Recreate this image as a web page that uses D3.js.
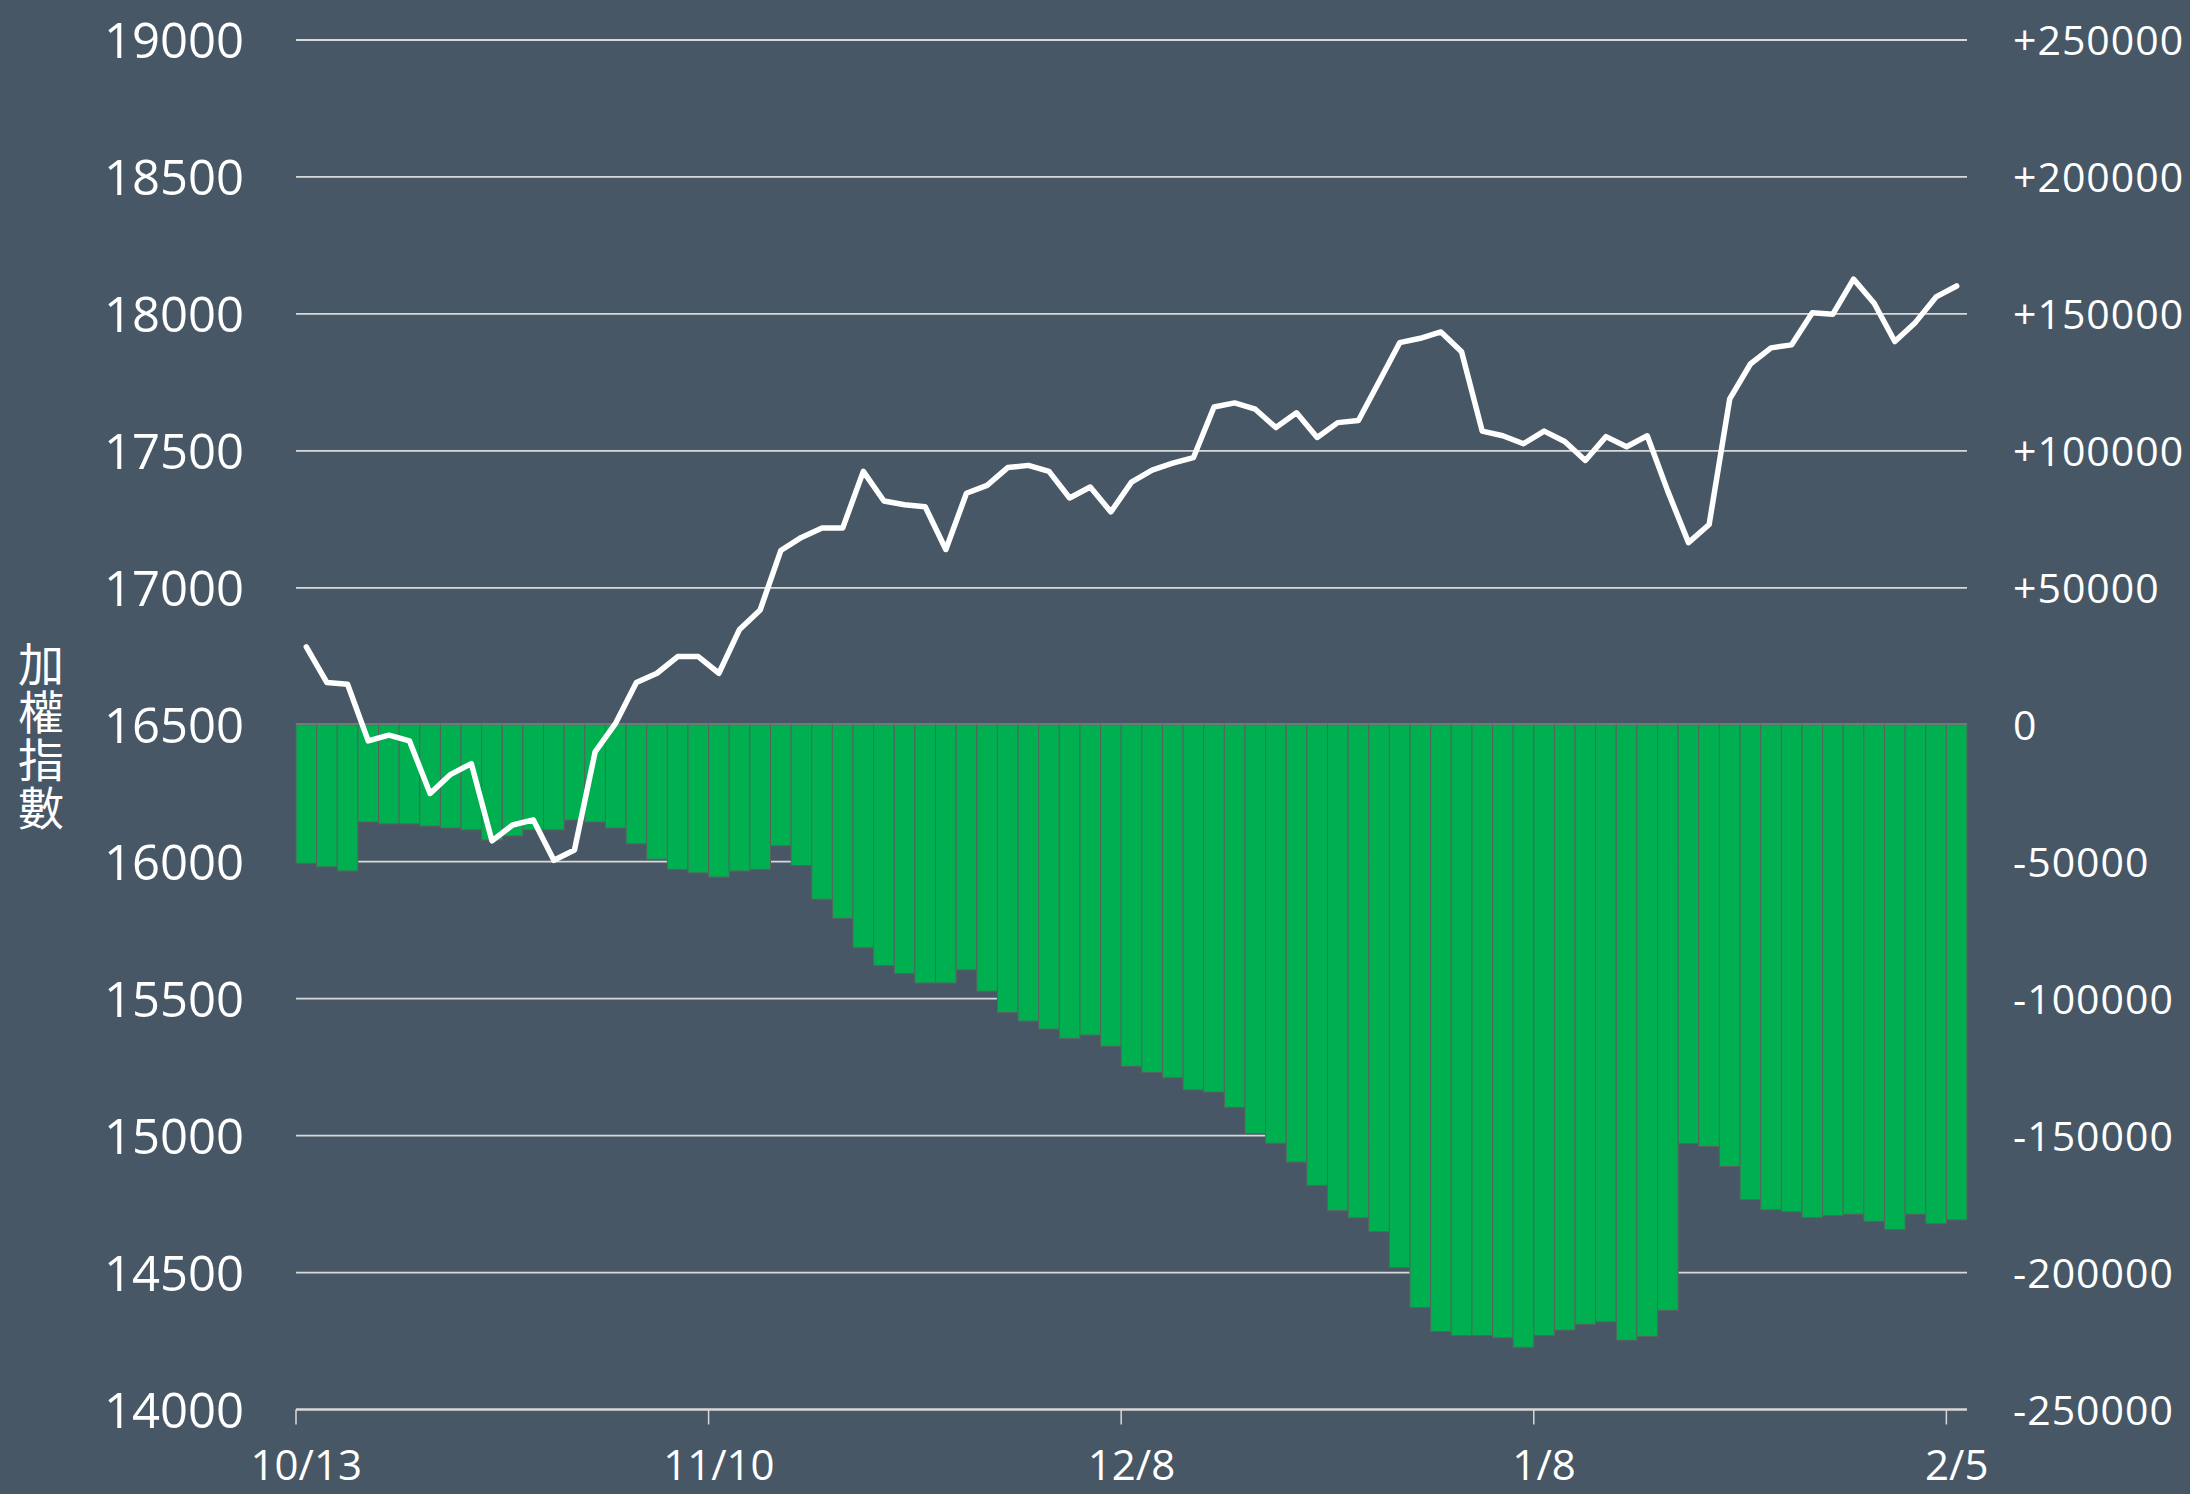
<!DOCTYPE html>
<html>
<head>
<meta charset="utf-8">
<script src="https://cdnjs.cloudflare.com/ajax/libs/d3/7.8.5/d3.min.js"></script>
<style>
  html, body { margin: 0; padding: 0; background: #475766; }
  svg { display: block; }
</style>
</head>
<body>
<svg id="chart" width="2190" height="1494"></svg>
<script>
// ---- Data ----
const dates = [
  "10/13","10/16","10/17","10/18","10/19","10/20","10/23","10/24","10/25","10/26","10/27",
  "10/30","10/31","11/1","11/2","11/3","11/6","11/7","11/8","11/9","11/10",
  "11/13","11/14","11/15","11/16","11/17","11/20","11/21","11/22","11/23","11/24",
  "11/27","11/28","11/29","11/30","12/1","12/4","12/5","12/6","12/7","12/8",
  "12/11","12/12","12/13","12/14","12/15","12/18","12/19","12/20","12/21","12/22",
  "12/25","12/26","12/27","12/28","12/29","1/2","1/3","1/4","1/5","1/8",
  "1/9","1/10","1/11","1/12","1/15","1/16","1/17","1/18","1/19","1/22",
  "1/23","1/24","1/25","1/26","1/29","1/30","1/31","2/1","2/2","2/5"
];

// 加權指數 (left axis)
const taiex = [
  16784,16654,16648,16441,16462,16441,16249,16319,16358,16076,16134,
  16153,16005,16043,16401,16506,16654,16688,16749,16749,16688,
  16848,16919,17136,17184,17218,17218,17425,17317,17303,17296,
  17140,17345,17374,17439,17447,17425,17328,17368,17277,17386,
  17430,17455,17475,17660,17675,17652,17585,17639,17549,17603,
  17611,17752,17895,17911,17934,17862,17572,17555,17526,17572,
  17534,17465,17552,17515,17555,17352,17165,17231,17690,17817,
  17876,17887,18004,17999,18127,18039,17899,17969,18062,18102
];

// net position (right axis)
const netPos = [
  -50600,-51900,-53400,-35500,-36200,-36200,-37000,-37700,-38400,-42100,-40600,
  -38400,-38400,-34800,-35500,-37700,-43500,-49100,-52800,-54100,-55600,
  -53400,-52800,-44200,-51400,-63700,-70700,-81400,-87900,-90800,-94300,
  -94300,-89500,-97300,-105100,-108200,-111100,-114600,-113300,-117400,-124700,
  -126900,-128900,-133300,-134100,-139700,-149200,-152800,-159700,-168200,-177400,
  -180000,-185100,-198200,-212800,-221500,-223000,-223000,-223800,-227300,-223000,
  -221000,-218900,-218000,-224700,-223300,-213800,-152900,-154000,-161300,-173400,
  -177100,-177800,-179900,-179200,-178700,-181300,-184300,-178700,-182200,-180800
];

const leftTicks = [14000,14500,15000,15500,16000,16500,17000,17500,18000,18500,19000];
const rightTicks = [-250000,-200000,-150000,-100000,-50000,0,50000,100000,150000,200000,250000];
const xTickLabels = ["10/13","11/10","12/8","1/8","2/5"];
const yTitle = "加權指數";

// ---- Layout ----
const plotLeft = 296, plotRight = 1967, plotTop = 40, plotBottom = 1409.5;

const svg = d3.select("#chart");
svg.append("rect").attr("width", 2190).attr("height", 1494).attr("fill", "#475766");

const x = d3.scaleBand().domain(dates).range([plotLeft, plotRight]).padding(0);
const bw = x.bandwidth();
const yL = d3.scaleLinear().domain([14000, 19000]).range([plotBottom, plotTop]);
const yR = d3.scaleLinear().domain([-250000, 250000]).range([plotBottom, plotTop]);

// gridlines
svg.append("g").selectAll("line")
  .data(leftTicks.filter(t => t !== 14000))
  .join("line")
  .attr("x1", plotLeft).attr("x2", plotRight)
  .attr("y1", d => yL(d)).attr("y2", d => yL(d))
  .attr("stroke", "#d9d9d9").attr("stroke-width", 1.8);

// bars
svg.append("g").selectAll("rect")
  .data(netPos)
  .join("rect")
  .attr("x", (d, i) => x(dates[i]))
  .attr("width", bw)
  .attr("y", d => Math.min(yR(0), yR(d)))
  .attr("height", d => Math.abs(yR(d) - yR(0)))
  .attr("fill", "#00b050")
  .attr("stroke", "#5a6360")
  .attr("stroke-width", 1);

// line
const line = d3.line()
  .x((d, i) => x(dates[i]) + bw / 2)
  .y(d => yL(d));
svg.append("path")
  .datum(taiex)
  .attr("d", line)
  .attr("fill", "none")
  .attr("stroke", "#ffffff")
  .attr("stroke-width", 5.5)
  .attr("stroke-linejoin", "round")
  .attr("stroke-linecap", "round");

// x axis
const xAxis = d3.axisBottom(x)
  .tickValues(xTickLabels)
  .tickSize(15)
  .tickPadding(26);
const gx = svg.append("g")
  .attr("transform", `translate(0,${plotBottom})`)
  .call(xAxis);
gx.select(".domain").attr("stroke", "#d9d9d9").attr("stroke-width", 2.5)
  .attr("d", `M${plotLeft},0H${plotRight}`);
gx.selectAll(".tick line").attr("stroke", "#d9d9d9").attr("stroke-width", 1.5)
  .attr("x1", -bw / 2).attr("x2", -bw / 2);
gx.selectAll(".tick text")
  .attr("fill", "#ffffff")
  .attr("font-family", "'Open Sans', 'Noto Sans', sans-serif")
  .attr("font-size", 42)
  .attr("dy", "0.71em");

// left axis
const yAxisL = d3.axisLeft(yL).tickValues(leftTicks).tickSize(0).tickPadding(0)
  .tickFormat(d => String(d));
const gl = svg.append("g").attr("transform", "translate(244,0)").call(yAxisL);
gl.select(".domain").remove();
gl.selectAll(".tick text")
  .attr("fill", "#ffffff")
  .attr("font-family", "'Open Sans', 'Noto Sans', sans-serif")
  .attr("font-size", 49)
  .attr("dy", "0.36em");

// right axis
const yAxisR = d3.axisRight(yR).tickValues(rightTicks).tickSize(0).tickPadding(0)
  .tickFormat(d => d > 0 ? "+" + d : String(d));
const gr = svg.append("g").attr("transform", "translate(2013,0)").call(yAxisR);
gr.select(".domain").remove();
gr.selectAll(".tick text")
  .attr("fill", "#ffffff")
  .attr("font-family", "'Open Sans', 'Noto Sans', sans-serif")
  .attr("font-size", 41)
  .attr("letter-spacing", 1)
  .attr("dy", "0.36em");

// vertical title (single text, upright vertical writing)
svg.append("text")
  .attr("x", 41)
  .attr("y", 641)
  .attr("fill", "#ffffff")
  .attr("font-family", "'Noto Sans CJK TC', 'Noto Sans CJK SC', sans-serif")
  .attr("font-size", 46)
  .attr("letter-spacing", 2)
  .style("writing-mode", "vertical-rl")
  .style("text-orientation", "upright")
  .text(yTitle);
</script>
</body>
</html>
